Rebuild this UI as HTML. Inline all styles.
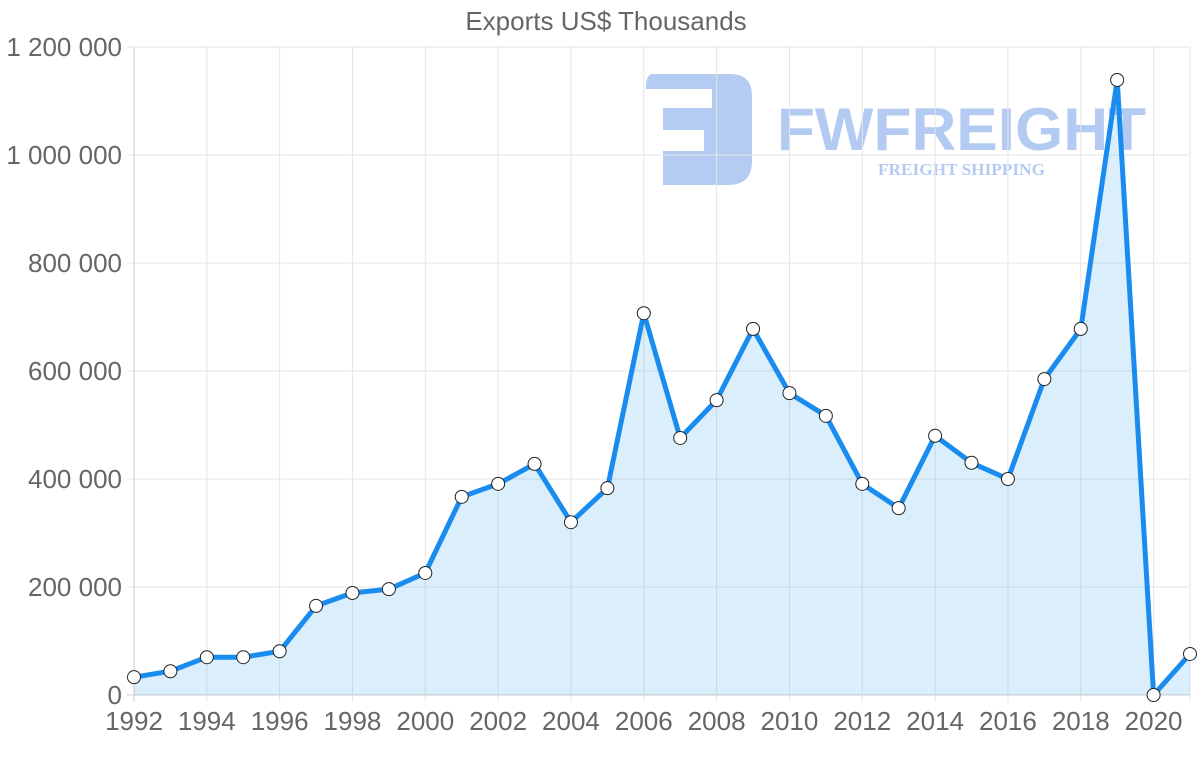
<!DOCTYPE html>
<html><head><meta charset="utf-8"><style>
html,body{margin:0;padding:0;background:#fff;width:1200px;height:763px;overflow:hidden}
svg text{font-family:"Liberation Sans",sans-serif}
</style></head><body>
<svg id="chart" width="1200" height="763" viewBox="0 0 1200 763" xmlns="http://www.w3.org/2000/svg">
<g opacity="0.5">
<path d="M652 74 H730 Q752 74 752 96 V161 Q752 185 728 185 H663 V151 H704 V130 H663 V108 H712 V89 H646 Q646 74 652 74 Z" fill="#6a98e6"/>
<text x="777" y="150" font-size="60" font-weight="bold" fill="#6a98e6" textLength="369" lengthAdjust="spacingAndGlyphs">FWFREIGHT</text>
<text x="878" y="175" font-size="17" font-weight="bold" fill="#6a98e6" style="font-family:'Liberation Serif',serif" textLength="167" lengthAdjust="spacingAndGlyphs">FREIGHT SHIPPING</text>
</g>
<g id="grid"></g>
<g id="series"></g>
<text x="606" y="30" font-size="26" fill="#666" text-anchor="middle">Exports US$ Thousands</text>
</svg>
<script>
const years = [1992,1993,1994,1995,1996,1997,1998,1999,2000,2001,2002,2003,2004,2005,2006,2007,2008,2009,2010,2011,2012,2013,2014,2015,2016,2017,2018,2019,2020,2021];
const exportsValues = [33000,44000,70000,70000,81000,165000,189000,196000,226000,367000,391000,428000,320000,383000,707000,476000,546000,678000,559000,517000,391000,346000,480000,430000,400000,585000,678000,1139000,0,76000];
const yTicks = [0,200000,400000,600000,800000,1000000,1200000];
const yTickLabels = ["0","200 000","400 000","600 000","800 000","1 000 000","1 200 000"];
const xTickYears = [1992,1994,1996,1998,2000,2002,2004,2006,2008,2010,2012,2014,2016,2018,2020];

const NS="http://www.w3.org/2000/svg";
const L=134,R=1190,T=47,B=695;
const xs=y=>L+(y-1992)/(2021-1992)*(R-L);
const ys=v=>B-v/1200000*(B-T);
function mk(tag,attrs,parent){const e=document.createElementNS(NS,tag);for(const k in attrs)e.setAttribute(k,attrs[k]);parent.appendChild(e);return e;}
const grid=document.getElementById('grid'),ser=document.getElementById('series'),svg=document.getElementById('chart');

yTicks.forEach((t,i)=>{
  const ln=mk('line',{x1:127,x2:R,y1:ys(t),y2:ys(t),stroke:i===0?'#ccc':'#e5e5e5','stroke-width':1},grid);
  
  
  const tx=mk('text',{x:122,y:ys(t)+9,'font-size':26,fill:'#666','text-anchor':'end'},svg);
  tx.textContent=yTickLabels[i];
  
  
});
xTickYears.forEach(yr=>{
  const ln=mk('line',{x1:xs(yr),x2:xs(yr),y1:T,y2:702,stroke:yr===1992?'#ccc':'#e5e5e5','stroke-width':1},grid);
  
  
  const tx=mk('text',{x:xs(yr),y:730,'font-size':26,fill:'#666','text-anchor':'middle'},svg);
  tx.textContent=String(yr);
  
  
});
const rl=mk('line',{x1:R,x2:R,y1:T,y2:702,stroke:'#e5e5e5'},grid);



const pts=years.map((y,i)=>[xs(y),ys(exportsValues[i])]);
const d=pts.map((p,i)=>(i?'L':'M')+p[0].toFixed(1)+' '+p[1].toFixed(1)).join(' ');
const area=mk('path',{d:d+` L${xs(2021)} ${B} L${xs(1992)} ${B} Z`,fill:'rgba(54,162,235,0.18)'},ser);


const line=mk('path',{d:d,fill:'none',stroke:'#1a8cf0','stroke-width':5,'stroke-linejoin':'round'},ser);


pts.forEach(p=>{
  const c=mk('circle',{cx:p[0],cy:p[1],r:6.5,fill:'#fff',stroke:'#222','stroke-width':1},ser);
  
  
});
</script>
</body></html>
